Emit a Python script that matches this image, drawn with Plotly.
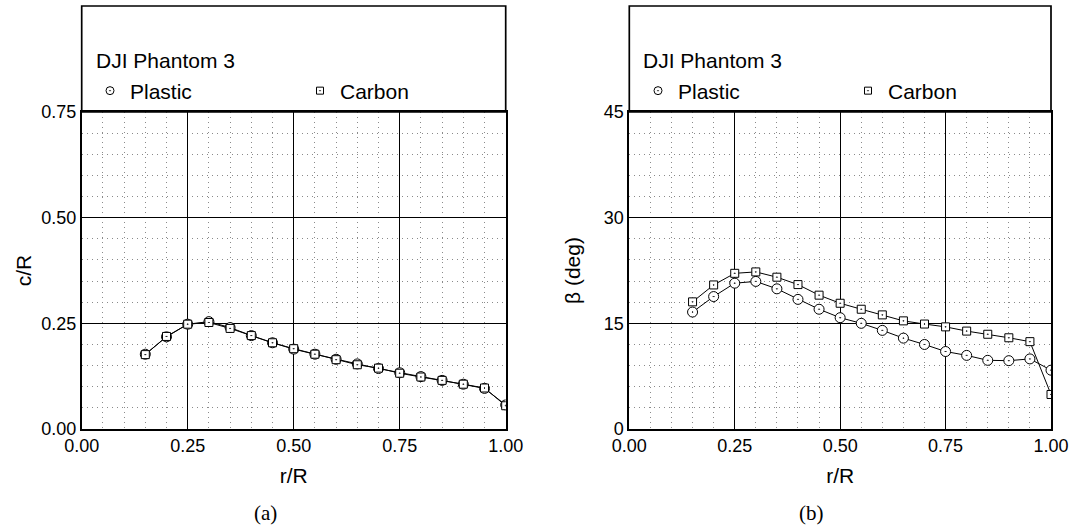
import plotly.graph_objects as go

# ---- data ----
r_R = [0.15, 0.20, 0.25, 0.30, 0.35, 0.40, 0.45, 0.50, 0.55, 0.60,
       0.65, 0.70, 0.75, 0.80, 0.85, 0.90, 0.95, 1.00]
cR_plastic = [0.177, 0.218, 0.248, 0.254, 0.240, 0.221, 0.204, 0.189, 0.177,
              0.165, 0.154, 0.143, 0.133, 0.124, 0.115, 0.106, 0.096, 0.057]
cR_carbon = [0.176, 0.219, 0.248, 0.252, 0.238, 0.221, 0.204, 0.190, 0.177,
             0.164, 0.152, 0.144, 0.132, 0.123, 0.115, 0.106, 0.097, 0.055]
beta_plastic = [16.6, 18.8, 20.7, 20.95, 19.9, 18.4, 17.0, 15.8, 15.0, 14.0,
                12.9, 12.0, 11.0, 10.45, 9.75, 9.7, 9.95, 8.35]
beta_carbon = [18.05, 20.45, 22.1, 22.3, 21.55, 20.5, 19.0, 17.85, 17.0, 16.2,
               15.35, 14.9, 14.5, 13.9, 13.45, 12.95, 12.4, 4.9]

x_ticks = [0.0, 0.25, 0.5, 0.75, 1.0]
title_text = "DJI Phantom 3"
series_names = ["Plastic", "Carbon"]

W, H = 1073, 529
FONT = "Liberation Sans, Arial, sans-serif"


def px(x):
    return x / W


def py(y):
    return (H - y) / H


xa_dom = [px(81.7), px(505.7)]
xb_dom = [px(629.3), px(1051.0)]
y_dom = [py(429), py(112)]
box_top = py(6)

fig = go.Figure()

circ = dict(symbol="circle-dot", size=10, color="white",
            line=dict(color="black", width=1))
sq = dict(symbol="square-dot", size=8, color="white",
          line=dict(color="black", width=1))
line = dict(color="black", width=1)

# panel (a)
fig.add_trace(go.Scatter(x=r_R, y=cR_plastic, mode="lines+markers", line=line,
                         marker=circ, xaxis="x", yaxis="y", showlegend=False))
fig.add_trace(go.Scatter(x=r_R, y=cR_carbon, mode="lines+markers", line=line,
                         marker=sq, xaxis="x", yaxis="y", showlegend=False))
# panel (b)
fig.add_trace(go.Scatter(x=r_R, y=beta_plastic, mode="lines+markers", line=line,
                         marker=circ, xaxis="x2", yaxis="y2", showlegend=False))
fig.add_trace(go.Scatter(x=r_R, y=beta_carbon, mode="lines+markers", line=line,
                         marker=sq, xaxis="x2", yaxis="y2", showlegend=False))

# legend entries (markers only)
leg_circ = dict(symbol="circle-dot", size=8, color="white",
                line=dict(color="black", width=1))
leg_sq = dict(symbol="square-dot", size=7, color="white",
              line=dict(color="black", width=1))
for lg, xa, ya in [("legend", "x", "y"), ("legend2", "x2", "y2")]:
    fig.add_trace(go.Scatter(x=[None], y=[None], mode="markers", marker=leg_circ,
                             name=series_names[0], legend=lg, xaxis=xa, yaxis=ya))
    fig.add_trace(go.Scatter(x=[None], y=[None], mode="markers", marker=leg_sq,
                             name=series_names[1], legend=lg, xaxis=xa, yaxis=ya))

axis_common = dict(
    showline=True, mirror=True, linecolor="black", linewidth=1.7,
    showgrid=True, gridcolor="black", gridwidth=1, zeroline=False,
    ticks="", tickfont=dict(family=FONT, size=18, color="black"),
    automargin=False,
)
minor_common = dict(showgrid=True, gridcolor="#8a8a8a", gridwidth=1, griddash="1px,4px")

xaxis_common = dict(axis_common, range=[0, 1], tickvals=x_ticks, tickformat=".2f",
                    minor=dict(minor_common, dtick=0.05),
                    title=dict(text="r/R", font=dict(family=FONT, size=21, color="black"),
                               standoff=13))

fig.update_layout(
    width=W, height=H,
    margin=dict(l=0, r=0, t=0, b=0),
    paper_bgcolor="white", plot_bgcolor="white",
    xaxis=dict(xaxis_common, domain=xa_dom, anchor="y"),
    yaxis=dict(axis_common, domain=y_dom, anchor="x", range=[0, 0.75], dtick=0.25,
               tickformat=".2f", minor=dict(minor_common, dtick=0.05),
               title=dict(text="c/R", font=dict(family=FONT, size=21, color="black"),
                          standoff=4)),
    xaxis2=dict(xaxis_common, domain=xb_dom, anchor="y2"),
    yaxis2=dict(axis_common, domain=y_dom, anchor="x2", range=[0, 45], dtick=15,
                minor=dict(minor_common, dtick=3),
                title=dict(text="β (deg)", font=dict(family=FONT, size=21, color="black"),
                           standoff=17)),
    showlegend=True,
)

leg_common = dict(
    orientation="h", xanchor="left", yanchor="middle",
    bgcolor="rgba(0,0,0,0)", borderwidth=0,
    font=dict(family=FONT, size=21, color="black"),
    entrywidth=165, entrywidthmode="pixels", itemclick=False, itemdoubleclick=False,
)
fig.update_layout(
    legend=dict(leg_common, x=px(90), y=py(91)),
    legend2=dict(leg_common, x=px(638), y=py(91)),
)

# legend titles
for dom in (xa_dom, xb_dom):
    fig.add_annotation(text=title_text, xref="paper", yref="paper",
                       x=dom[0] + px(12), y=py(61), xanchor="left", yanchor="middle",
                       showarrow=False, font=dict(family=FONT, size=21, color="black"))

# legend boxes above the data areas
for dom in (xa_dom, xb_dom):
    fig.add_shape(type="rect", xref="paper", yref="paper",
                  x0=dom[0], x1=dom[1], y0=y_dom[1], y1=box_top,
                  line=dict(color="black", width=1.7), fillcolor="rgba(0,0,0,0)")

# captions
cap_font = dict(family="Liberation Serif, DejaVu Serif, serif", size=21, color="black")
fig.add_annotation(text="(a)", xref="paper", yref="paper", x=px(265), y=py(513),
                   showarrow=False, font=cap_font, xanchor="center", yanchor="middle")
fig.add_annotation(text="(b)", xref="paper", yref="paper", x=px(811), y=py(513),
                   showarrow=False, font=cap_font, xanchor="center", yanchor="middle")

fig.write_html("out.html")
